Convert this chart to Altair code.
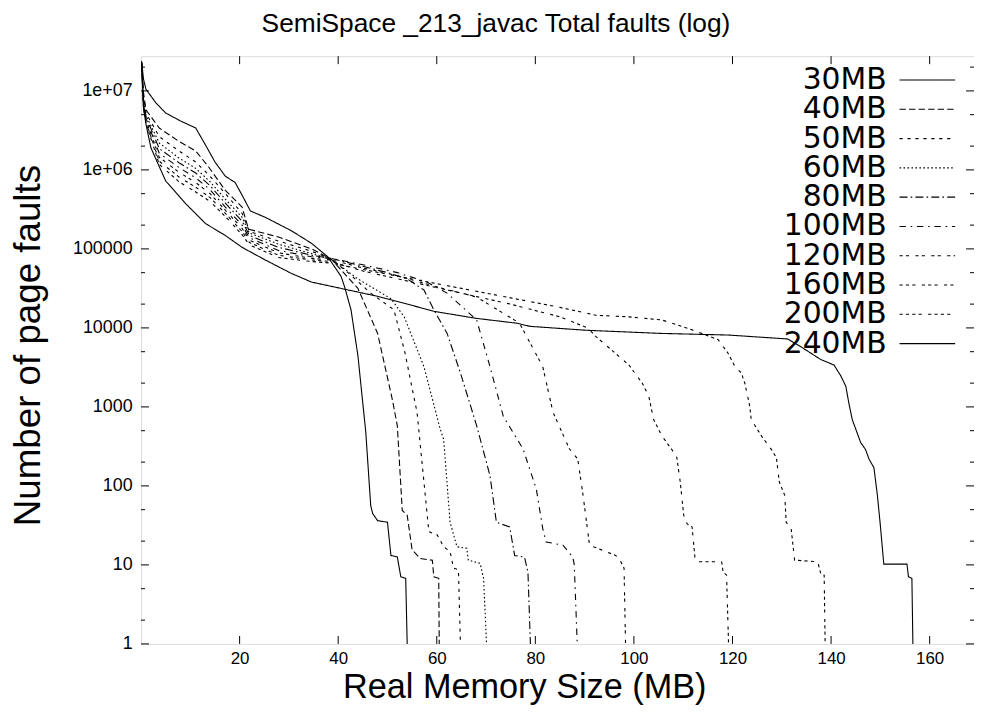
import altair as alt
import pandas as pd

series_names = ["30MB", "40MB", "50MB", "60MB", "80MB", "100MB", "120MB", "160MB", "200MB", "240MB"]

# memory size (MB) and log10(page faults)
x_30 = [0.1, 0.5, 1, 3, 5, 8, 11.1, 13.4, 15, 17.1, 19.1, 20.5, 22.2, 25.2, 30.5, 34.6, 37.9, 40.6, 41.3, 42.6, 44, 45.6, 46.6, 47, 48, 50, 50.7, 52, 52.7, 53.7, 54]
l_30 = [7.38, 7.15, 7.02, 6.85, 6.72, 6.62, 6.53, 6.28, 6.10, 5.92, 5.84, 5.68, 5.48, 5.40, 5.23, 5.07, 4.90, 4.65, 4.52, 4.23, 3.65, 2.68, 1.75, 1.65, 1.56, 1.54, 1.12, 1.10, 0.85, 0.83, 0]

x_40 = [0.1, 0.5, 1, 3.7, 7.7, 11.1, 13.8, 17.1, 20.5, 21.8, 27.9, 34.6, 38.6, 44, 48, 51, 52, 53, 54, 55, 56.7, 59.1, 59.4, 60.4, 60.5]
l_40 = [7.36, 6.98, 6.76, 6.53, 6.36, 6.24, 6.03, 5.74, 5.53, 5.25, 5.15, 5.00, 4.87, 4.50, 3.93, 3.09, 2.76, 1.69, 1.63, 1.19, 1.08, 1.06, 0.85, 0.83, 0]

x_50 = [0.1, 0.5, 1, 3.7, 7.7, 11.1, 14, 17.1, 20.5, 22, 27.9, 34.6, 38.6, 42, 46.6, 51.3, 53.5, 56, 57.4, 58.4, 60.1, 61.4, 62.7, 63.4, 64.4, 64.8]
l_50 = [7.36, 6.93, 6.72, 6.42, 6.24, 6.10, 5.92, 5.70, 5.45, 5.22, 5.10, 4.97, 4.87, 4.70, 4.44, 4.23, 3.70, 2.93, 2.05, 1.42, 1.38, 1.23, 1.17, 0.96, 0.94, 0]

x_60 = [0.1, 0.5, 1, 3.7, 7.7, 11.1, 14, 17.1, 20.5, 22, 27.9, 34.6, 38.6, 44, 50.7, 53.4, 57.4, 60.7, 61.4, 62.7, 64.1, 66.1, 66.4, 68.8, 69.5, 70.1]
l_60 = [7.36, 6.90, 6.69, 6.34, 6.15, 6.02, 5.85, 5.63, 5.40, 5.20, 5.06, 4.94, 4.87, 4.62, 4.37, 4.14, 3.51, 2.72, 2.59, 1.54, 1.23, 1.21, 1.06, 1.02, 0.83, 0]

x_80 = [0.1, 0.5, 1, 3.7, 7.7, 11.1, 14, 17.1, 20.5, 22, 27.9, 34.6, 38.6, 45, 50, 54, 57.4, 59.4, 62.1, 64.8, 68.1, 70.8, 72.1, 74.8, 75.8, 77.8, 78.5, 79]
l_80 = [7.36, 6.87, 6.67, 6.27, 6.09, 5.96, 5.80, 5.58, 5.35, 5.17, 5.02, 4.92, 4.88, 4.78, 4.70, 4.62, 4.48, 4.23, 3.93, 3.43, 2.76, 2.13, 1.54, 1.48, 1.12, 1.10, 0.91, 0]

x_100 = [0.1, 0.5, 1, 3.7, 7.7, 11.1, 14, 17.1, 20.5, 22, 27.9, 34.6, 38.6, 45, 52, 58, 62.1, 68.1, 70.8, 73.5, 77.5, 80.2, 81.5, 82.2, 85.6, 87.6, 87.9, 88.5]
l_100 = [7.36, 6.85, 6.65, 6.21, 6.03, 5.90, 5.75, 5.53, 5.30, 5.14, 4.98, 4.90, 4.88, 4.80, 4.70, 4.58, 4.44, 4.10, 3.51, 2.88, 2.47, 1.96, 1.46, 1.29, 1.25, 1.10, 1.00, 0]

x_120 = [0.1, 0.5, 1, 3.7, 7.7, 11.1, 14, 17.1, 20.5, 22, 27.9, 34.6, 38.6, 45, 52, 60, 68.1, 76.8, 81.5, 83.6, 86.9, 88.6, 89.6, 91, 96.3, 97, 98, 98.3]
l_120 = [7.36, 6.83, 6.63, 6.16, 5.97, 5.84, 5.70, 5.49, 5.26, 5.11, 4.95, 4.88, 4.86, 4.76, 4.66, 4.52, 4.39, 4.06, 3.51, 2.93, 2.47, 2.34, 1.92, 1.25, 1.12, 1.08, 0.96, 0]

x_160 = [0.1, 0.5, 1, 3.7, 7.7, 11.1, 14, 17.1, 20.5, 22, 27.9, 34.6, 38.6, 45, 55, 65, 75, 85, 90.6, 92.3, 99, 101.7, 103, 104, 105.7, 107.7, 108.7, 109.4, 110.1, 110.8, 111.8, 112.4, 113.1, 117.8, 118.1, 118.8, 119.2]
l_160 = [7.36, 6.81, 6.61, 6.11, 5.91, 5.78, 5.65, 5.45, 5.22, 5.08, 4.92, 4.86, 4.84, 4.72, 4.58, 4.44, 4.30, 4.14, 4.00, 3.89, 3.53, 3.30, 3.14, 2.84, 2.63, 2.46, 2.36, 2.05, 1.63, 1.52, 1.48, 1.08, 1.04, 1.04, 0.91, 0.87, 0]

x_200 = [0.1, 0.5, 1, 3.7, 7.7, 11.1, 14, 17.1, 20.5, 22, 27.9, 34.6, 38.6, 45, 55, 65, 75, 85, 92.3, 99, 105.7, 111.1, 113.8, 117.1, 119.1, 120.5, 121.8, 122.5, 123.5, 123.8, 125.9, 127.9, 128.9, 129.5, 130.6, 130.9, 131.9, 132.6, 137.3, 137.9, 138.6, 138.8]
l_200 = [7.36, 6.79, 6.59, 6.07, 5.85, 5.72, 5.60, 5.41, 5.18, 5.05, 4.89, 4.84, 4.82, 4.74, 4.62, 4.50, 4.38, 4.26, 4.16, 4.14, 4.10, 3.99, 3.93, 3.85, 3.68, 3.51, 3.43, 3.30, 3.01, 2.84, 2.63, 2.46, 2.36, 2.05, 1.88, 1.54, 1.46, 1.06, 1.04, 0.89, 0.87, 0]

x_240 = [0.1, 0.5, 1, 2, 5, 9.1, 13.1, 17.1, 20.5, 25.2, 30.5, 34.6, 41.3, 48, 54.7, 59.4, 68.1, 76.2, 78.9, 90.3, 105.7, 119.1, 131.2, 133.9, 137.9, 140.6, 142, 143, 143.6, 144.3, 146, 147, 147.7, 148.7, 149.4, 150, 150.7, 155.4, 155.7, 156.4, 156.6]
l_240 = [7.36, 6.78, 6.58, 6.28, 5.86, 5.57, 5.32, 5.17, 5.02, 4.86, 4.69, 4.58, 4.49, 4.40, 4.29, 4.21, 4.12, 4.06, 4.02, 3.97, 3.93, 3.91, 3.86, 3.76, 3.60, 3.53, 3.39, 3.26, 3.05, 2.84, 2.55, 2.46, 2.34, 2.23, 1.88, 1.50, 1.01, 1.01, 0.85, 0.83, 0]

x_lists = [x_30, x_40, x_50, x_60, x_80, x_100, x_120, x_160, x_200, x_240]
l_lists = [l_30, l_40, l_50, l_60, l_80, l_100, l_120, l_160, l_200, l_240]

x_tick_values = [20, 40, 60, 80, 100, 120, 140, 160]
y_tick_values = [1, 10, 100, 1000, 10000, 100000, 1000000, 10000000]
y_tick_labels = ["1", "10", "100", "1000", "10000", "100000", "1e+06", "1e+07"]
y_minor_values = [2, 5, 20, 50, 200, 500, 2000, 5000, 20000, 50000, 200000, 500000,
                  2000000, 5000000, 20000000]

# gnuplot-like dash patterns
dashes = [[1, 0], [6.4, 3.2], [3.2, 4.8], [1.6, 2.4], [8, 3.2, 1.6, 3.2],
          [6.4, 4.8, 1.6, 4.8], [3.2, 3.2, 3.2, 6.4], [3.2, 3.2, 3.2, 3.2, 3.2, 6.4],
          [3.2, 3.2, 3.2, 3.2, 3.2, 3.2, 3.2, 6.4], [1, 0]]

rows = []
for name, xs, ls in zip(series_names, x_lists, l_lists):
    for i, (x, l) in enumerate(zip(xs, ls)):
        rows.append({"series": name, "mem": x, "faults": 10 ** l, "order": i})
df = pd.DataFrame(rows)

W, H = 839, 592
FONT = "Liberation Sans"

xscale = alt.Scale(domain=[0, 169], nice=False, zero=False)
yscale = alt.Scale(type="log", domain=[1, 2.75e7], nice=False)

label_expr = " : ".join(
    f"datum.value == {v} ? '{t}'" for v, t in zip(y_tick_values, y_tick_labels)
) + " : ''"

xaxis = alt.Axis(values=x_tick_values, title="Real Memory Size (MB)", grid=False,
                 ticks=False, domain=False,
                 labelFont=FONT, labelFontSize=17, labelPadding=7,
                 titleFont=FONT, titleFontSize=34.5, titleFontWeight="normal",
                 titleX=386, titleY=54, titleBaseline="alphabetic", titleAlign="center",
                 titleAnchor="start")
yaxis = alt.Axis(values=y_tick_values, labelExpr=label_expr, title="Number of page faults",
                 grid=False, ticks=False, domain=False,
                 labelFont=FONT, labelFontSize=18, labelPadding=9,
                 titleFont=FONT, titleFontSize=37, titleFontWeight="normal",
                 titleX=-113, titleY=291, titleAngle=270, titleBaseline="middle",
                 titleAlign="center", titleAnchor="start")


def xenc(field):
    return alt.X(field, type="quantitative", scale=xscale, axis=xaxis)


def yenc(field):
    return alt.Y(field, type="quantitative", scale=yscale, axis=yaxis)


dash_scale = alt.Scale(domain=series_names, range=dashes)

lines = alt.Chart(df).mark_line(color="black", strokeWidth=1.1, clip=True).encode(
    x=xenc("mem"),
    y=yenc("faults"),
    strokeDash=alt.StrokeDash("series:N", scale=dash_scale, legend=None),
    detail="series:N",
    order="order:Q",
)

xt = pd.DataFrame({"v": x_tick_values})
yt = pd.DataFrame({"v": y_tick_values})
ym = pd.DataFrame({"v": y_minor_values})

tick_style = dict(color="black", strokeWidth=1)
xt_bottom = alt.Chart(xt).mark_rule(**tick_style).encode(x=xenc("v"), y=alt.value(H), y2=alt.value(H - 8))
xt_top = alt.Chart(xt).mark_rule(**tick_style).encode(x=xenc("v"), y=alt.value(0), y2=alt.value(8))
yt_left = alt.Chart(yt).mark_rule(**tick_style).encode(y=yenc("v"), x=alt.value(0), x2=alt.value(8))
yt_right = alt.Chart(yt).mark_rule(**tick_style).encode(y=yenc("v"), x=alt.value(W), x2=alt.value(W - 8))
ym_left = alt.Chart(ym).mark_rule(**tick_style).encode(y=yenc("v"), x=alt.value(0), x2=alt.value(4))
ym_right = alt.Chart(ym).mark_rule(**tick_style).encode(y=yenc("v"), x=alt.value(W), x2=alt.value(W - 4))

main = alt.layer(lines, xt_bottom, xt_top, yt_left, yt_right, ym_left, ym_right)

legend_df = pd.DataFrame({"series": series_names, "idx": list(range(len(series_names)))})
leg_y = alt.Y("idx:Q", scale=alt.Scale(domain=[0, 9], range=[24, 289.5]), axis=None)
leg_text = alt.Chart(legend_df).mark_text(align="right", baseline="middle", fontSize=30,
                                          font="DejaVu Sans", color="black").encode(
    x=alt.value(751), y=leg_y, text="series:N")
leg_line = alt.Chart(legend_df).mark_rule(color="black", strokeWidth=1.1).encode(
    x=alt.value(764), x2=alt.value(820), y=leg_y,
    strokeDash=alt.StrokeDash("series:N", scale=dash_scale, legend=None))

chart = alt.layer(main, leg_text, leg_line).resolve_scale(y="independent").properties(
    width=W, height=H,
    title=alt.TitleParams("SemiSpace _213_javac Total faults (log)", fontSize=26.5, font=FONT,
                          fontWeight="normal", anchor="middle", dx=-62, offset=18, color="black"),
    autosize=alt.AutoSizeParams(type="none"),
    padding={"left": 134, "top": 46, "right": 0, "bottom": 61},
).configure_view(stroke="black", strokeWidth=1.2).configure_axis(
    labelColor="black", titleColor="black",
    grid=False, ticks=False, domain=False,
).configure(background="white")

chart.save("out.html", embed_options={"renderer": "svg", "actions": False})
